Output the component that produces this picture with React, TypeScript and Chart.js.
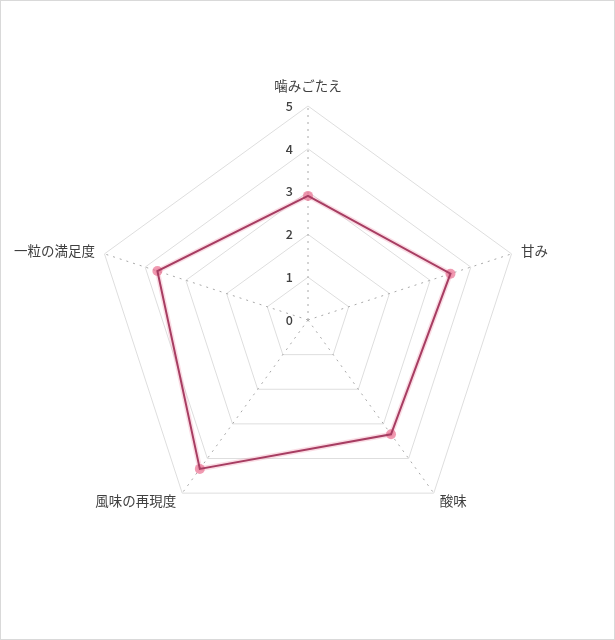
import React, { useEffect, useRef } from 'react';
import { Chart, registerables } from 'chart.js';

Chart.register(...registerables);

const labels = ['噛みごたえ', '甘み', '酸味', '風味の再現度', '一粒の満足度'];
const scores = [2.9, 3.5, 3.3, 4.3, 3.7];
const tickValues = [0, 1, 2, 3, 4, 5];

const FONT = '"Noto Sans CJK JP", "Noto Sans", sans-serif';

// Excel style labels: ticks sit left of the axis, point labels hug the vertices
const excelLabels = {
    id: 'excelLabels',
    afterDraw(chart) {
        const scale = chart.scales.r;
        const ctx = chart.ctx;
        ctx.save();
        ctx.fillStyle = '#404040';
        ctx.font = `500 12.5px ${FONT}`;
        ctx.textAlign = 'right';
        ctx.textBaseline = 'middle';
        tickValues.forEach((v) => {
            const d = scale.getDistanceFromCenterForValue(v);
            ctx.fillText(String(v), scale.xCenter - 15, scale.yCenter - d);
        });

        ctx.font = `13.5px ${FONT}`;
        ctx.fillStyle = '#404040';
        labels.forEach((txt, i) => {
            const p = scale.getPointPosition(i, scale.drawingArea + 10);
            const dx = p.x - scale.xCenter;
            let y = p.y;
            if (Math.abs(dx) < 1) {
                ctx.textAlign = 'center';
                y -= 10;
            } else {
                ctx.textAlign = dx > 0 ? 'left' : 'right';
            }
            ctx.fillText(txt, p.x, y);
        });
        ctx.restore();
    }
};

const RadarChart = () => {
    const canvasRef = useRef(null);

    useEffect(() => {
        const chart = new Chart(canvasRef.current, {
            type: 'radar',
            data: {
                labels: labels,
                datasets: [
                    {
                        data: scores,
                        borderColor: '#a73d62',
                        borderWidth: 2,
                        pointRadius: 0,
                        fill: false,
                        order: 1
                    },
                    {
                        data: scores,
                        borderColor: 'rgba(240, 140, 165, 0.3)',
                        borderWidth: 5,
                        pointRadius: 5,
                        pointBorderWidth: 0,
                        pointBackgroundColor: 'rgba(234, 112, 146, 0.7)',
                        fill: false,
                        order: 2
                    }
                ]
            },
            options: {
                animation: false,
                responsive: true,
                maintainAspectRatio: false,
                layout: {
                    padding: { left: 93, right: 92, top: 105, bottom: 104 }
                },
                plugins: {
                    legend: { display: false },
                    tooltip: { enabled: false }
                },
                scales: {
                    r: {
                        min: 0,
                        max: 5,
                        ticks: { stepSize: 1, display: false },
                        pointLabels: { display: false },
                        grid: { color: '#dedede', lineWidth: 1 },
                        angleLines: {
                            color: '#a8a8a8',
                            lineWidth: 1,
                            borderDash: [2, 5]
                        }
                    }
                }
            },
            plugins: [excelLabels]
        });

        return () => {
            chart.destroy();
        };
    }, []);

    return <canvas ref={canvasRef} />;
};

export default function App() {
    useEffect(() => {
        document.body.style.margin = '0';
    }, []);

    return (
        <div
            style={{
                position: 'absolute',
                left: 0,
                top: 0,
                width: 615,
                height: 640,
                boxSizing: 'border-box',
                border: '1px solid #d9d9d9',
                background: '#fff'
            }}
        >
            <RadarChart />
        </div>
    );
}
